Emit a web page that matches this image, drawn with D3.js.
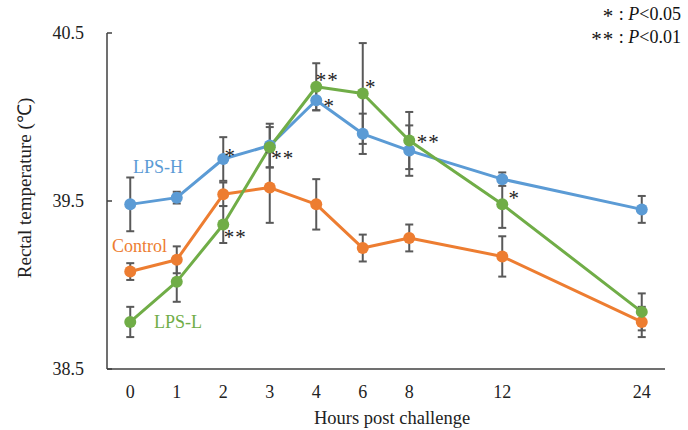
<!DOCTYPE html>
<html>
<head>
<meta charset="utf-8">
<script src="https://cdn.jsdelivr.net/npm/d3@7"></script>
<style>
  body { margin: 0; background: #fff; }
  svg text { font-family: "Liberation Serif", "Times New Roman", serif; }
</style>
</head>
<body>
<svg id="chart" width="688" height="430"></svg>
<script>
// hours after challenge
const hours = [0, 1, 2, 3, 4, 6, 8, 12, 24];

// mean rectal temperature and error (SE) per group
const controlMean = [39.08, 39.15, 39.54, 39.58, 39.48, 39.22, 39.28, 39.17, 38.78];
const controlErr  = [0.05, 0.08, 0.07, 0.21, 0.15, 0.08, 0.08, 0.12, 0.09];
const lpsHMean = [39.48, 39.52, 39.75, 39.83, 40.10, 39.90, 39.80, 39.63, 39.45];
const lpsHErr  = [0.16, 0.035, 0.13, 0.13, 0.06, 0.12, 0.15, 0.04, 0.08];
const lpsLMean = [38.78, 39.02, 39.36, 39.82, 40.18, 40.14, 39.86, 39.48, 38.84];
const lpsLErr  = [0.09, 0.12, 0.11, 0.12, 0.14, 0.30, 0.17, 0.14, 0.11];

// significance marks: [series, hour, mark]
const marks = [
  ["LPS-H", 2, "*"], ["LPS-H", 3, "**"], ["LPS-H", 4, "*"],
  ["LPS-L", 2, "**"], ["LPS-L", 4, "**"], ["LPS-L", 6, "*"],
  ["LPS-L", 8, "**"], ["LPS-L", 12, "*"]
];

const yTicks = [38.5, 39.5, 40.5];

const series = [
  { name: "Control", color: "#ED7D31", mean: controlMean, err: controlErr, lx: 112, ly: 246 },
  { name: "LPS-H", color: "#5B9BD5", mean: lpsHMean, err: lpsHErr, lx: 133, ly: 167 },
  { name: "LPS-L", color: "#70AD47", mean: lpsLMean, err: lpsLErr, lx: 154, ly: 322 }
];

// star offsets relative to the point (dx, dy)
const markOffset = {
  "LPS-H|2": [7, -7], "LPS-H|3": [13, 8], "LPS-H|4": [13, 2],
  "LPS-L|2": [12, 8], "LPS-L|4": [11, -11], "LPS-L|6": [8, -10],
  "LPS-L|8": [19, -3], "LPS-L|12": [12, -10]
};

const svg = d3.select("#chart");
const plotL = 107, plotR = 665, plotT = 33, plotB = 369;

// axis is not proportional to time: 0-4 h one slot per hour, then wider steps
const slot = d3.scaleLinear().domain([0, 4, 8, 12, 24]).range([0, 4, 6, 8, 11]);
const slotW = (plotR - plotL) / 12;
const x = h => plotL + slotW * (slot(h) + 0.5);
const y = d3.scaleLinear().domain([38.5, 40.5]).range([plotB, plotT]);

const axisColor = "#404040";
const barColor = "#595959";

// axes
svg.append("line").attr("x1", plotL).attr("x2", plotL).attr("y1", plotT).attr("y2", plotB)
  .attr("stroke", axisColor).attr("stroke-width", 1.5);
svg.append("line").attr("x1", plotL).attr("x2", plotR).attr("y1", plotB).attr("y2", plotB)
  .attr("stroke", axisColor).attr("stroke-width", 1.5);

yTicks.forEach(t => {
  svg.append("line").attr("x1", plotL).attr("x2", plotL + 5).attr("y1", y(t)).attr("y2", y(t))
    .attr("stroke", axisColor).attr("stroke-width", 1.5);
  svg.append("text").attr("x", 84).attr("y", y(t)).attr("dy", "0.35em")
    .attr("text-anchor", "end").attr("font-size", 18).attr("fill", "#222")
    .text(t.toFixed(1));
});

hours.forEach(h => {
  svg.append("text").attr("x", x(h)).attr("y", 392).attr("dy", "0.35em")
    .attr("text-anchor", "middle").attr("font-size", 18).attr("fill", "#222")
    .text(h);
});

svg.append("text").attr("x", 392).attr("y", 418).attr("dy", "0.35em")
  .attr("text-anchor", "middle").attr("font-size", 18.5).attr("fill", "#222")
  .text("Hours post challenge");

svg.append("text")
  .attr("transform", "translate(24,188) rotate(-90)")
  .attr("dy", "0.35em").attr("text-anchor", "middle").attr("font-size", 19).attr("fill", "#222")
  .text("Rectal temperature (℃)");

// lines
const line = d3.line().x((d, i) => x(hours[i])).y(d => y(d));
series.forEach(s => {
  svg.append("path").datum(s.mean).attr("d", line)
    .attr("fill", "none").attr("stroke", s.color).attr("stroke-width", 3)
    .attr("stroke-linejoin", "round");
});

// error bars
series.forEach(s => {
  const g = svg.append("g").attr("stroke", barColor).attr("stroke-width", 2);
  s.mean.forEach((m, i) => {
    const cx = x(hours[i]), y0 = y(m - s.err[i]), y1 = y(m + s.err[i]);
    g.append("line").attr("x1", cx).attr("x2", cx).attr("y1", y0).attr("y2", y1);
    g.append("line").attr("x1", cx - 4).attr("x2", cx + 4).attr("y1", y0).attr("y2", y0);
    g.append("line").attr("x1", cx - 4).attr("x2", cx + 4).attr("y1", y1).attr("y2", y1);
  });
});

// markers
series.forEach(s => {
  svg.append("g").selectAll("circle").data(s.mean).join("circle")
    .attr("cx", (d, i) => x(hours[i])).attr("cy", d => y(d)).attr("r", 6)
    .attr("fill", s.color);
});

// series labels
series.forEach(s => {
  svg.append("text").attr("x", s.lx).attr("y", s.ly).attr("dy", "0.35em")
    .attr("font-size", 18).attr("fill", s.color).text(s.name);
});

// significance stars
marks.forEach(([name, h, m]) => {
  const s = series.find(d => d.name === name);
  const i = hours.indexOf(h);
  const off = markOffset[name + "|" + h];
  svg.append("text").attr("x", x(h) + off[0]).attr("y", y(s.mean[i]) + off[1] + 11)
    .attr("text-anchor", "middle").attr("font-size", 21).attr("fill", "#222")
    .attr("letter-spacing", 1).text(m);
});

// p-value note
const note = svg.append("g").attr("font-size", 18).attr("fill", "#111");
[["*", "0.05", 19], ["**", "0.01", 42]].forEach(([st, p, yy]) => {
  const t = note.append("text").attr("x", 681).attr("y", yy).attr("dy", "0.35em")
    .attr("text-anchor", "end");
  t.append("tspan").attr("font-size", 21).attr("dy", "0.2em").attr("letter-spacing", 1).text(st);
  t.append("tspan").attr("dy", "-0.2em").text(" : ");
  t.append("tspan").attr("font-style", "italic").text("P");
  t.append("tspan").text("<" + p);
});
</script>
</body>
</html>
